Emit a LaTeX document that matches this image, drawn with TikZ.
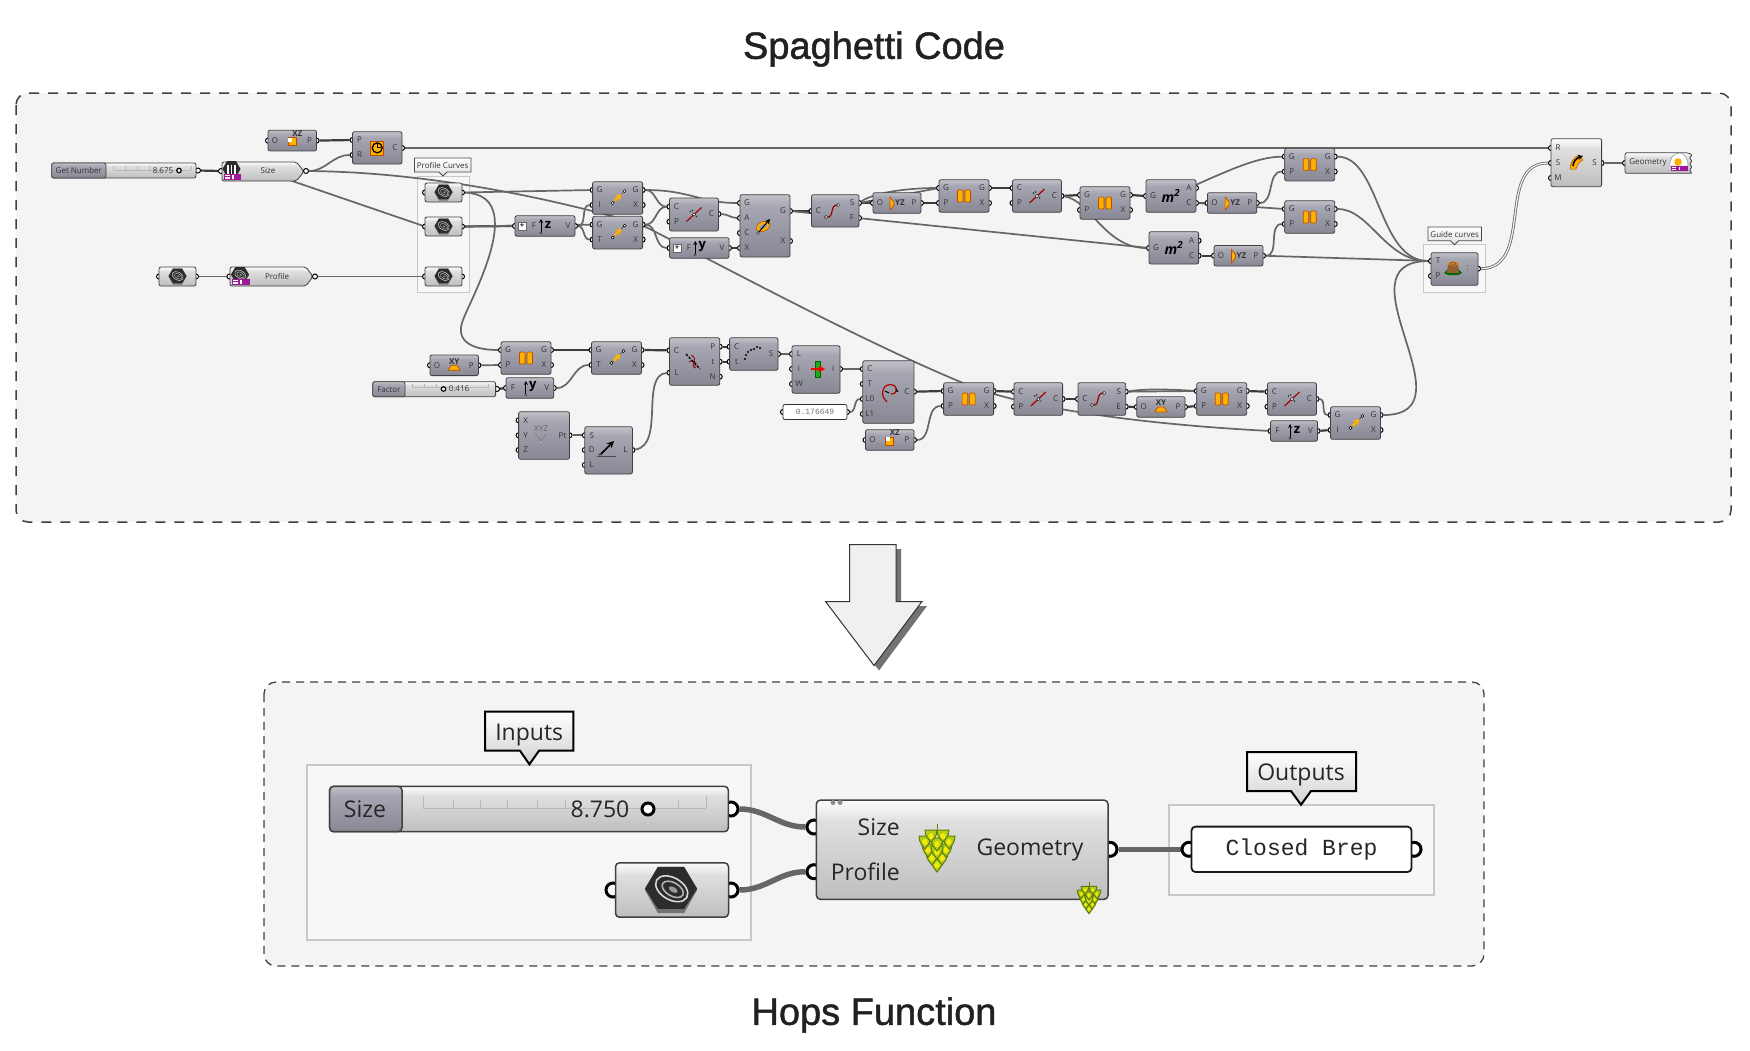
\documentclass[tikz,border=0pt]{standalone}
\usepackage{fontspec}
\setmainfont{Open Sans}
\setmonofont{Liberation Mono}
\newfontfamily\titlefont[FakeBold=1.3]{Liberation Sans}
\usepackage{tikz}
\usetikzlibrary{arrows.meta}

\definecolor{wiregray}{HTML}{666666}
\definecolor{stubgray}{HTML}{3C3C3C}
\definecolor{panelgray}{HTML}{F4F4F4}
\definecolor{groupgray}{HTML}{C8C8C8}
\definecolor{labgray}{HTML}{333333}
\definecolor{gdA}{HTML}{C2C2CA}
\definecolor{gdB}{HTML}{ABABB6}
\definecolor{gdC}{HTML}{A6A6B2}
\definecolor{gdD}{HTML}{888894}
\definecolor{glA}{HTML}{FCFCFC}
\definecolor{glB}{HTML}{E8E8E8}
\definecolor{glC}{HTML}{E0E0E0}
\definecolor{glD}{HTML}{BEBEBE}
\definecolor{orbar}{HTML}{FFB000}
\definecolor{orline}{HTML}{C04A00}
\definecolor{hexdark}{HTML}{2C2C2C}
\definecolor{tagpurple}{HTML}{A0189A}
\definecolor{hopdark}{HTML}{5E7D10}
\definecolor{hoplight}{HTML}{B4CE12}

\pgfdeclareverticalshading{gdark}{100bp}{color(0bp)=(gdD); color(25bp)=(gdD); color(65bp)=(gdC); color(67bp)=(gdB); color(75bp)=(gdA); color(100bp)=(gdA)}
\pgfdeclareverticalshading{glight}{100bp}{color(0bp)=(glD); color(25bp)=(glD); color(65bp)=(glC); color(67bp)=(glB); color(75bp)=(glA); color(100bp)=(glA)}

\pgfdeclarelayer{back}
\pgfdeclarelayer{wires}
\pgfdeclarelayer{ports}
\pgfsetlayers{back,wires,ports,main}

\newcommand{\smallfont}{\fontsize{8}{8}\selectfont}
\newcommand{\bigfont}{\fontsize{23}{23}\selectfont}

\tikzset{
    x=1pt, y=-1pt,
    panel/.style={draw=black!75, fill=panelgray, rounded corners=12pt},
    groupbox/.style={draw=groupgray, fill=white!97!black},
    wire/.style={draw=wiregray, line width=1.7pt},
    stub/.style={draw=stubgray, line width=2.2pt},
    fatwire/.style={draw=wiregray, line width=5.5pt},
    treewire/.style={draw=wiregray, line width=.8pt, double=panelgray, double distance=1.2pt},
    port/.style={circle, draw=black, fill=white, line width=1pt, minimum size=5pt, inner sep=0pt},
    bigport/.style={circle, draw=black, fill=white, line width=3pt, minimum size=14pt, inner sep=0pt},
    handle/.style={circle, draw=black, fill=white, line width=1.2pt, minimum size=4.5pt, inner sep=0pt},
    comp/.style={shade, draw=black!75, line width=.8pt, rounded corners=2pt, inner sep=0pt, outer sep=0pt},
    bigcomp/.style={line width=1.5pt, rounded corners=4pt},
    lab/.style={text=labgray, font=\smallfont, inner sep=0pt},
    biglab/.style={text=black!85, font=\bigfont, inner sep=0pt},
    orbox/.style={fill=orbar, draw=orline, line width=.7pt},
    tip/.style={draw=black!70, line width=.8pt, top color=white, bottom color=black!12},
    bigtip/.style={draw=black, line width=2pt, top color=white, bottom color=black!18},
    tick/.style={draw=black!28, line width=.7pt},
    % icons
    pics/icsplit/.style={code={
        \fill[black!45] (-1.5,-5) rectangle (1.5,6);
        \draw[orbox, rounded corners=1pt] (-6.5,-6) rectangle (-1,6);
        \draw[orbox, rounded corners=1pt] (1,-6) rectangle (6.5,6);
    }},
    pics/icmove/.style={code={
        \draw[black!80, line width=.5pt] (-5,5) -- (7,-7);
        \draw[-{Stealth[length=6pt,width=7pt]}, orbar, line width=2.4pt] (-3,3) -- (4,-4);
        \draw[fill=white, line width=.5pt] (-5,5) circle (1.5);
        \draw[fill=white, line width=.5pt] (7,-7) circle (1.5);
    }},
    pics/icslash/.style={code={
        \draw[red!65!black, line width=1.2pt] (-7.5,7) -- (7.5,-7);
        \fill[black!80] (-3.5,-3) circle (.9);
        \fill[black!80] (-1.5,-4) circle (.9);
        \fill[black!80] (2.5,2) circle (.8);
        \draw[fill=white, line width=.4pt] (0,0) circle (1.6);
    }},
    pics/iccurve/.style={code={
        \draw[red!60!black, line width=1.2pt] (-6,6) .. controls (3,8) and (-3,-7) .. (6,-6);
        \draw[fill=white, line width=.5pt] (-6,6) circle (1.6);
        \draw[fill=white, line width=.5pt] (6,-6) circle (1.6);
    }},
    pics/icxz/.style={code={
        \draw[orbox] (-4,-3) rectangle (4,5);
        \fill[white] (-4,-3) rectangle (0,1);
        \node[lab, font=\smallfont\bfseries] (t) at (5,-7) {XZ};
    }},
    pics/icxy/.style={code={
        \fill[orbar, draw=orline, line width=.7pt] (-6,5) -- (-3,0) -- (3,0) -- (6,5) -- cycle;
        \node[lab, font=\smallfont\bfseries] (t) at (0,-4) {XY};
    }},
    pics/icyz/.style={code={
        \fill[orbar, draw=orline, line width=.7pt] (-7,-6) -- (-3,-1) -- (-3,2) -- (-7,7) -- cycle;
        \node[lab, font=\smallfont\bfseries] (t) at (3,0) {YZ};
    }},
    pics/icclock/.style={code={
        \fill[orbar, draw=orline, line width=.7pt] (-6.5,-7) rectangle (6.5,7);
        \draw[black, line width=1.3pt] (0,0) circle (5);
        \draw[black, line width=1pt] (0,-4) -- (0,0) -- (4,0);
    }},
    pics/ichex/.style={code={
        \fill[black!55] (-9,0) -- (-4.5,-8) -- (4.5,-8) -- (9,0) -- (4.5,8) -- (-4.5,8) -- cycle;
        \fill[hexdark] (-9,-.5) -- (-4.5,-8) -- (4.5,-8) -- (9,-.5) -- (4.5,6.5) -- (-4.5,6.5) -- cycle;
        \draw[white!85!black, line width=#1, rotate=-30] (0,-.5) ellipse (6 and 3.8);
        \draw[black!30, line width=#1, rotate=-30] (0.4,-.5) ellipse (4 and 2.3);
        \fill[black!40, rotate=-30] (0.6,-.5) ellipse (1.7 and .9);
    }},
    pics/icsize/.style={code={
        \fill[hexdark] (-9,0) -- (-4.5,-8) -- (4.5,-8) -- (9,0) -- (4.5,8) -- (-4.5,8) -- cycle;
        \foreach \xx in {-3.5,0,3.5} \draw[white, line width=1.2pt] (\xx,-4) -- (\xx,5);
    }},
    pics/icvec/.style={code={
        \draw[-{Stealth[length=4pt,width=4pt]}, black, line width=1pt] (-4,7) -- (-4,-7);
        \draw[fill=white, line width=.4pt] (-4,7) circle (1.2);
        \node[lab, text=black, font=\fontsize{13}{13}\selectfont\bfseries] (t) at (3,-1) {#1};
    }},
    pics/icalign/.style={code={
        \draw[orbar, line width=2.4pt, rotate=25] (-1,0) ellipse (6 and 3.5);
        \draw[orline, line width=.5pt, rotate=25] (-1,0) ellipse (7.2 and 4.7);
        \draw[-{Stealth[length=5pt,width=5pt]}, black, line width=1pt] (-6,7) -- (6,-7);
        \draw[fill=white, line width=.4pt] (-6,7) circle (1.4);
    }},
    pics/icpoints/.style={code={
        \draw[red!60!black, line width=.9pt] (-2,-6) .. controls (7,-2) and (-5,5) .. (3,7);
        \draw[red!60!black, line width=.9pt] (-4,1) .. controls (-1,-3) and (6,3) .. (2,5);
        \draw[black, line width=1.3pt, dash pattern=on 2.5pt off 1.5pt] (-7,-7) -- (7,8);
    }},
    pics/icdots/.style={code={
        \foreach \xx/\yy in {-7/6,-6/2,-4/-1,-1/-3,2/-4,5/-6,8/-5} \fill[black] (\xx,\yy) circle (1.2);
    }},
    pics/icnorm/.style={code={
        \fill[green!65!black!90, draw=green!40!black, line width=.5pt] (-2,-8) rectangle (3,8);
        \fill[red] (-6,-1) rectangle (3,1);
        \fill[red] (2,-3.5) -- (8,0) -- (2,3.5) -- cycle;
    }},
    pics/icspiral/.style={code={
        \draw[red!70!black, line width=1.2pt] (-3,10) .. controls (-12,2) and (-6,-10) .. (3,-7) .. controls (9,-4) and (6,3) .. (1,2);
        \draw[black, line width=1pt] (-5,-1) -- (-1,1);
        \draw[black, line width=1pt] (6,-3) -- (8,0);
    }},
    pics/icarrow/.style={code={
        \draw[black!70, line width=.5pt] (-10,6) -- (9,6);
        \draw[-{Stealth[length=7pt,width=7pt]}, black, line width=1.5pt] (-7,5) -- (7,-9);
        \draw[fill=white, line width=.4pt] (-7,5) circle (1.3);
    }},
    pics/icxyz/.style={code={
        \node[lab, text=black!60] (t) at (0,-6) {XYZ};
        \draw[black!55, line width=.4pt] (-6,-2) -- (0,6) -- (0,-2);
        \draw[black!55, line width=.4pt] (6,-2) -- (0,6);
        \draw[black!60, line width=.4pt, fill=white] (0,7) circle (1.3);
    }},
    pics/icstump/.style={code={
        \fill[green!40!black] (-9,5) -- (-5,1) -- (5,1) -- (9,5) -- (5,7) -- (-5,7) -- cycle;
        \fill[brown!75!black] (-5,-4) -- (5,-4) -- (6,5) -- (-6,5) -- cycle;
        \fill[orange!60!brown] (0,-4.5) ellipse (5.5 and 2.2);
        \draw[black!70, line width=.4pt] (0,-4.5) ellipse (3 and 1.1);
    }},
    pics/icsweep/.style={code={
        \fill[orbar, draw=orline, line width=.5pt] (-7,7) .. controls (-7,0) and (-3,-5) .. (2,-7) -- (6,-2) .. controls (3,-1) and (0,3) .. (-1,7) -- cycle;
        \draw[-{Stealth[length=5pt,width=5pt]}, black, line width=1.6pt] (-4,4) .. controls (-4,0) and (-1,-4) .. (6,-6);
    }},
    pics/ichop/.style={code={
        \draw[hopdark, line width=1pt] (0,-19) -- (0,-24);
        \foreach \xx/\yy/\hh in {0/15/9, -5/8/9, 5/8/9, -9/0/9, 9/0/9, 0/2/9, -12/-8/9, 12/-8/9, 0/-6/9, -6/-14/8, 6/-14/8} {
            \draw[hopdark, fill=hoplight, line width=1pt, shift={(\xx,\yy)}] (-6,-4) .. controls (-6,3) and (-2,\hh-3) .. (0,\hh) .. controls (2,\hh-3) and (6,3) .. (6,-4) -- cycle;
            \fill[yellow!85!hoplight, shift={(\xx,\yy)}] (0,2) ellipse (2.6 and 3);
        }
    }},
    pics/icegg/.style={code={
        \fill[white, draw=black!45, line width=.5pt] (-9,5) .. controls (-10,-3) and (-5,-8) .. (1,-8) .. controls (5,-8) and (9,-3) .. (9,5) -- cycle;
        \fill[orbar] (-1,1) circle (3.8);
    }},
    pics/ictag/.style={code={
        \fill[tagpurple] (0,0) rectangle (#1,5.5);
        \fill[white] (1,1) rectangle (5.5,2.3);
        \fill[white] (1,3.2) rectangle (5.5,4.5);
        \fill[white] (8,1) rectangle (9.5,4.5);
    }},
}

% component body, by its corners
\newcommand{\compbox}[6]{%
    \node[comp, shading=#6, minimum width={(#4-#2)*1pt}, minimum height={(#5-#3)*1pt}] (#1) at ({(#2+#4)/2},{(#3+#5)/2}) {};
}
% input and output grips with their letters
\newcommand{\pin}[4]{%
    \begin{pgfonlayer}{ports}\node[port] (#1) at ({#2},{#3}) {};\end{pgfonlayer}
    \node[lab] (#1t) at ({#2+7},{#3}) {#4};
}
\newcommand{\pout}[4]{%
    \begin{pgfonlayer}{ports}\node[port] (#1) at ({#2},{#3}) {};\end{pgfonlayer}
    \node[lab] (#1t) at ({#2-7},{#3}) {#4};
}
% two in, two out
\newcommand{\compa}[8]{%
    \compbox{#1}{#2}{#3}{#2+50}{#3+32.6}{gdark}
    \pin{#1a}{#2}{#3+8.3}{#4}
    \pin{#1b}{#2}{#3+23.3}{#5}
    \pout{#1p}{#2+50}{#3+8.3}{#6}
    \pout{#1q}{#2+50}{#3+23.3}{#7}
    \pic (#1ic) at (#1) {#8};
}
% one in, one out, low
\newcommand{\compc}[7]{%
    \compbox{#1}{#2}{#3}{#2+#4}{#3+20.6}{gdark}
    \pin{#1i}{#2}{#3+10.3}{#5}
    \pout{#1o}{#2+#4}{#3+10.3}{#6}
    \pic (#1ic) at (#1) {#7};
}
% curve parameter
\newcommand{\hexparam}[5]{%
    \compbox{#1}{#2}{#3}{#4}{#5}{glight}
    \pin{#1i}{#2}{(#3+#5)/2}{}
    \pout{#1o}{#4}{(#3+#5)/2}{}
    \pic (#1ic) at (#1) {ichex=.5pt};
}
% slider
\newcommand{\slidebody}[8]{%
    \compbox{#1}{#2}{#3}{#4}{#5}{glight}
    \compbox{#1l}{#2}{#3}{#6}{#5}{gdark}
    \node[#8] (#1t) at ({(#2+#6)/2},{(#3+#5)/2}) {#7};
}

\begin{document}
\begin{tikzpicture}
    \useasboundingbox (0,0) rectangle (1750,1050);

    \node[text=black!87, font=\fontsize{38}{38}\selectfont\titlefont, inner sep=0pt] (titlea) at (874,49) {Spaghetti Code};
    \node[text=black!87, font=\fontsize{38}{38}\selectfont\titlefont, inner sep=0pt] (titleb) at (874,1015) {Hops Function};

    \begin{pgfonlayer}{back}
        \draw[panel, line width=1.5pt, dash pattern=on 10pt off 9pt] (16,93) rectangle (1731,522);
        \draw[panel, line width=1.3pt, dash pattern=on 8pt off 6pt] (264,682) rectangle (1484,966);
        \draw[groupbox, line width=1pt] (417,176) rectangle (469.5,292);
        \draw[groupbox, line width=1pt] (1423,244.5) rectangle (1485.5,292.5);
        \draw[groupbox, line width=2pt] (307,764.5) rectangle (750.5,939.5);
        \draw[groupbox, line width=2pt] (1169,804.5) rectangle (1434,895);
    \end{pgfonlayer}

    % big arrow
    \fill[black!55] (854.5,549) -- (901,549) -- (901,606) -- (927,606) -- (879,670.5) -- (830.5,606) -- (854.5,606) -- cycle;
    \draw[black!80, fill=black!6, line width=1pt] (849.5,544.5) -- (896,544.5) -- (896,601.5) -- (922,601.5) -- (874,665.5) -- (825.5,601.5) -- (849.5,601.5) -- cycle;

    % top row
    \compc{pxz}{268}{130.3}{48.5}{O}{P}{icxz}
    \compbox{circ}{352.5}{131.7}{402}{164}{gdark}
    \pin{circa}{352.5}{140}{P}
    \pin{circb}{352.5}{155}{R}
    \pout{circp}{402}{148}{C}
    \pic (circic) at (circ) {icclock};

    \slidebody{gn}{51.7}{163}{196}{178}{106}{Get Number}{lab}
    \draw[tick] (113.5,170) -- (191,170);
    \foreach \xx in {113.5,125,137,149,191} \draw[tick] (\xx,170) -- ++(0,-4);
    \pout{gnp}{198}{170.5}{}
    \node[lab] (gnv) at (163,170.5) {8.675};
    \node[handle] (gnh) at (179,170.5) {};

    \draw[comp, shading=glight] (222,162) -- (296.5,162) -- (304,171.5) -- (296.5,181) -- (222,181) -- cycle;
    \coordinate (size) at (263,171);
    \pin{sizei}{221}{171}{}
    \pout{sizeo}{306}{171}{}
    \node[lab] (sizet) at (268,171) {Size};
    \pic (sizeic) at (231.5,169) {icsize};
    \pic (sizetag) at (224,174) {ictag=17};

    \draw[tip] (414.5,158) -- (471,158) -- (471,172) -- (447,172) -- (443,176) -- (439,172) -- (414.5,172) -- cycle;
    \node[lab] (notea) at (442.7,165) {Profile Curves};
    \hexparam{crva}{425}{183}{462}{202}
    \hexparam{crvb}{425}{217}{462}{236}
    \hexparam{crvc}{425}{267}{462}{286}
    \hexparam{crvd}{159}{267}{196}{286}

    \draw[comp, shading=glight] (230,267) -- (306,267) -- (313,276.5) -- (306,286) -- (230,286) -- cycle;
    \pin{profi}{229.5}{276.5}{}
    \pout{profo}{315}{276.5}{}
    \node[lab] (proft) at (277,276) {Profile};
    \pic (profic) at (240,275) {ichex=.5pt};
    \pic (proftag) at (232,279) {ictag=18};

    \compc{fza}{515}{215.7}{60}{}{V}{icvec=z}
    \node[lab] (fzat) at (534,226) {F};
    \node[draw=black!60, fill=white, inner sep=0pt, minimum size=8pt, font=\smallfont] (fzas) at (522,226) {*};

    \compa{eva}{592.6}{181.7}{G}{I}{G}{X}{icmove}
    \compa{evb}{592.6}{216.3}{G}{T}{G}{X}{icmove}
    \compbox{cpa}{669.5}{198}{718.5}{231}{gdark}
    \pin{cpaa}{669.5}{206.7}{C}
    \pin{cpab}{669.5}{221.7}{P}
    \pout{cpap}{718.5}{214}{C}
    \pic (cpaic) at (cpa) {icslash};

    \compc{fyb}{669.5}{237.7}{59.5}{}{V}{icvec=y}
    \node[lab] (fybt) at (689,248) {F};
    \node[draw=black!60, fill=white, inner sep=0pt, minimum size=8pt, font=\smallfont] (fybs) at (677,248) {*};

    \compbox{big}{740}{194.7}{790}{257}{gdark}
    \pin{biga}{740}{203}{G}
    \pin{bigb}{740}{218}{A}
    \pin{bigc}{740}{233}{C}
    \pin{bigd}{740}{248}{X}
    \pout{bigp}{790}{211}{G}
    \pout{bigq}{790}{241}{X}
    \pic (bigic) at (764,226) {icalign};

    \compbox{csf}{811.5}{194.7}{859}{227}{gdark}
    \pin{csfa}{811.5}{211}{C}
    \pout{csfp}{859}{203}{S}
    \pout{csfq}{859}{218}{F}
    \pic (csfic) at (832,211) {iccurve};

    \compc{yza}{873}{192.7}{48}{O}{P}{icyz}
    \compa{gpa}{939}{179.7}{G}{P}{G}{X}{icsplit}
    \compbox{cpb}{1012.5}{179.7}{1061.5}{212.3}{gdark}
    \pin{cpba}{1012.5}{188}{C}
    \pin{cpbb}{1012.5}{203}{P}
    \pout{cpbp}{1061.5}{196}{C}
    \pic (cpbic) at (cpb) {icslash};
    \compa{gpb}{1080}{186.7}{G}{P}{G}{X}{icsplit}

    \compbox{mta}{1146}{179.7}{1196}{212.3}{gdark}
    \pin{mtai}{1146}{196}{G}
    \pout{mtap}{1196}{188}{A}
    \pout{mtaq}{1196}{203}{C}
    \node[lab, text=black, font=\fontsize{14}{14}\selectfont\rmfamily\bfseries\itshape] (mtat) at (1171,196) {m\textsuperscript{2}};
    \compbox{mtb}{1149}{231.7}{1198.6}{264}{gdark}
    \pin{mtbi}{1149}{248}{G}
    \pout{mtbp}{1198.6}{240.7}{A}
    \pout{mtbq}{1198.6}{255.7}{C}
    \node[lab, text=black, font=\fontsize{14}{14}\selectfont\rmfamily\bfseries\itshape] (mtbt) at (1174,248) {m\textsuperscript{2}};

    \compc{yzb}{1207.4}{192.7}{49.4}{O}{P}{icyz}
    \compc{yzc}{1214}{245.4}{49}{O}{P}{icyz}
    \compa{gpc}{1284.7}{148.3}{G}{P}{G}{X}{icsplit}
    \compa{gpd}{1284.7}{200.7}{G}{P}{G}{X}{icsplit}

    \draw[tip] (1428,227) -- (1481.4,227) -- (1481.4,240.7) -- (1458.5,240.7) -- (1454.5,244.7) -- (1450.5,240.7) -- (1428,240.7) -- cycle;
    \node[lab] (noteb) at (1454.7,234) {Guide curves};
    \compbox{tree}{1431}{252.7}{1478}{285.3}{gdark}
    \pin{treea}{1431}{261}{T}
    \pin{treeb}{1431}{276}{P}
    \pout{treep}{1478}{268.7}{}
    \node[lab, text=black!50] (treet) at (1467.7,269) {T};
    \pic (treeic) at (1453,268) {icstump};

    \compbox{sweep}{1551}{138.7}{1601.6}{186.7}{glight}
    \pin{sweepa}{1551}{148}{R}
    \pin{sweepb}{1551}{163}{S}
    \pin{sweepc}{1551}{178}{M}
    \pout{sweepp}{1601.6}{163}{S}
    \pic (sweepic) at (1577,162) {icsweep};

    \draw[comp, shading=glight] (1625,152.7) -- (1688,152.7) -- (1692.5,155) -- (1689,158) -- (1692.5,161) -- (1689,164) -- (1692.5,167) -- (1689,170) -- (1692.5,173.3) -- (1625,173.3) -- cycle;
    \pin{geoi}{1625}{163}{}
    \node[lab] (geot) at (1648,163) {Geometry};
    \pic (geoic) at (1679,161) {icegg};
    \pic (geotag) at (1670.5,165.5) {ictag=17.5};

    % bottom row
    \compa{gpe}{501}{341.7}{G}{P}{G}{X}{icsplit}
    \compc{pxy}{430}{355}{48.4}{O}{P}{icxy}
    \slidebody{fac}{372.8}{381.7}{495.6}{396.7}{405}{Factor}{lab}
    \draw[tick] (412.5,387.5) -- (488,387.5);
    \foreach \xx in {412.5,424,436,488} \draw[tick] (\xx,387.5) -- ++(0,-4);
    \pout{facp}{497}{389}{}
    \node[handle] (fach) at (443.5,389) {};
    \node[lab] (facv) at (459,389) {0.416};
    \compc{fyc}{506}{377.7}{47.8}{F}{V}{icvec=y}

    \compbox{xyz}{518.6}{411.7}{569.5}{459.3}{gdark}
    \pin{xyza}{518.6}{420.3}{X}
    \pin{xyzb}{518.6}{435.3}{Y}
    \pin{xyzc}{518.6}{450}{Z}
    \pout{xyzp}{569.5}{435.3}{Pt}
    \pic (xyzic) at (541,435) {icxyz};

    \compbox{vec}{584.8}{426.7}{632.4}{474}{gdark}
    \pin{veca}{584.8}{435.3}{S}
    \pin{vecb}{584.8}{450}{D}
    \pin{vecc}{584.8}{465}{L}
    \pout{vecp}{632.4}{450}{L}
    \pic (vecic) at (607,450) {icarrow};

    \compa{evc}{591.5}{341.7}{G}{T}{G}{X}{icmove}
    \compbox{pln}{669.5}{337.7}{719.7}{385.3}{gdark}
    \pin{plna}{669.5}{350.3}{C}
    \pin{plnb}{669.5}{372.7}{L}
    \pout{plnp}{719.7}{346.7}{P}
    \pout{plnq}{719.7}{361.7}{t}
    \pout{plnr}{719.7}{376.7}{N}
    \pic (plnic) at (693,361) {icpoints};

    \compbox{div}{729.6}{337.7}{778}{370.3}{gdark}
    \pin{diva}{729.6}{346.7}{C}
    \pin{divb}{729.6}{361.7}{t}
    \pout{divp}{778}{354}{S}
    \pic (divic) at (752,353) {icdots};

    \compbox{nrm}{792}{345.7}{840}{393.3}{gdark}
    \pin{nrma}{792}{354}{L}
    \pin{nrmb}{792}{369}{i}
    \pin{nrmc}{792}{384}{W}
    \pout{nrmp}{840}{369}{i}
    \pic (nrmic) at (817,369) {icnorm};

    \compbox{arc}{862.8}{360.7}{914}{423.3}{gdark}
    \pin{arca}{862.8}{369}{C}
    \pin{arcb}{862.8}{384}{T}
    \pin{arcc}{862.8}{399}{L0}
    \pin{arcd}{862.8}{414}{L1}
    \pout{arcp}{914}{391.7}{C}
    \pic (arcic) at (890,392) {icspiral};

    \node[draw=black!80, fill=white, rounded corners=2pt, line width=.8pt, minimum width=64pt, minimum height=15pt, inner sep=0pt, text=black!55, font=\smallfont\ttfamily] (numb) at (815,412) {0.176649};
    \pin{numbi}{783}{412}{}
    \pout{numbo}{847}{412}{}

    \compc{pxzb}{865.5}{429.7}{48.5}{O}{P}{icxz}
    \compa{gpf}{943.6}{382.7}{G}{P}{G}{X}{icsplit}
    \compbox{cpd}{1014}{382.7}{1062.6}{415.3}{gdark}
    \pin{cpda}{1014}{391.7}{C}
    \pin{cpdb}{1014}{406.7}{P}
    \pout{cpdp}{1062.6}{399}{C}
    \pic (cpdic) at (cpd) {icslash};

    \compbox{cse}{1078}{382.7}{1125.7}{415.3}{gdark}
    \pin{csea}{1078}{399}{C}
    \pout{csep}{1125.7}{391.7}{S}
    \pout{cseq}{1125.7}{406.7}{E}
    \pic (cseic) at (1098,399) {iccurve};

    \compc{pxyb}{1136.8}{396.7}{48.2}{O}{P}{icxy}
    \compa{gpg}{1196.7}{382.7}{G}{P}{G}{X}{icsplit}
    \compbox{cpe}{1267.5}{382.7}{1316.5}{415.3}{gdark}
    \pin{cpea}{1267.5}{391.7}{C}
    \pin{cpeb}{1267.5}{406.7}{P}
    \pout{cpep}{1316.5}{399}{C}
    \pic (cpeic) at (cpe) {icslash};
    \compc{fzb}{1270.5}{420.7}{47}{F}{V}{icvec=z}
    \compa{evd}{1330.5}{406.7}{G}{I}{G}{X}{icmove}

    % wires of the top
    \begin{pgfonlayer}{wires}
        \draw[stub] (pxzo) -- (circa);
        \draw[wire] (sizeo) to[out=0,in=180] (circb);
        \draw[wire] (circp) -- (sweepa);
        \draw[stub] (gnp) -- (sizei);
        \draw[wire] (size.center) -- (crvbi);
        \draw[wire] (sizeo) .. controls (420,172) and (540,195) .. (640,224) .. controls (740,275) and (860,340) .. (963,383) .. controls (1000,400) and (1100,422) .. (fzbi);
        \draw[wire] (crvao) -- (evaa);
        \draw[wire] (crvao) .. controls (530,195) and (470,300) .. (463,320) .. controls (455,340) and (470,350) .. (gpea);
        \draw[stub] (crvbo) -- (fzai);
        \draw[wire] (crvbo) -- (evba);
        \draw[wire] (crvco) -- (profo);
        \draw[wire] (crvdo) -- (profi);
        \draw[wire] (fzao) to[out=0,in=180] (evab);
        \draw[wire] (fzao) to[out=0,in=180] (evbb);
        \draw[wire] (evap) .. controls (690,190) and (700,203) .. (biga);
        \draw[wire] (evap) to[out=0,in=180] (cpaa);
        \draw[wire] (evbp) to[out=0,in=180] (cpaa);
        \draw[wire] (evbp) to[out=0,in=180] (fybi);
        \draw[wire] (cpap) to[out=0,in=180] (bigb);
        \draw[stub] (fybo) -- (bigd);
        \draw[stub] (bigp) -- (csfa);
        \draw[wire] (bigp) -- (mtbi);
        \draw[stub] (csfp) -- (yzai);
        \draw[wire] (csfp) .. controls (875,192) and (910,188) .. (gpaa);
        \draw[wire] (csfp) -- (gpaa);
        \draw[stub] (yzao) -- (gpab);
        \draw[stub] (gpap) -- (cpba);
        \draw[stub] (cpbp) -- (gpba);
        \draw[stub] (gpbp) -- (mtai);
        \draw[wire] (cpbp) .. controls (1090,200) and (1105,248) .. (mtbi);
        \draw[wire] (mta.center) .. controls (1225,172) and (1255,157) .. (gpca);
        \draw[stub] (mtaq) -- (yzbi);
        \draw[wire] (yzbo) to[out=0,in=180] (gpcb);
        \draw[wire] (mtaq) -- (gpda);
        \draw[stub] (mtbq) -- (yzci);
        \draw[wire] (yzco) to[out=0,in=180] (gpdb);
        \draw[wire] (yzco) -- (treea);
        \draw[wire] (gpcp) .. controls (1380,157) and (1378,261) .. (treea);
        \draw[wire] (gpdp) .. controls (1370,209) and (1385,261) .. (treea);
        \draw[wire] (evdp) .. controls (1475,415) and (1335,262) .. (treea);
        \draw[treewire] (treep) .. controls (1535,268) and (1495,163) .. (sweepb);
        \draw[wire] (sweepp) -- (geoi);
        % wires of the bottom
        \draw[stub] (gpep) -- (evca);
        \draw[wire] (pxyo) -- (gpeb);
        \draw[stub] (facp) -- (fyci);
        \draw[wire] (fyco) to[out=0,in=180] (evcb);
        \draw[stub] (evcp) -- (plna);
        \draw[wire] (xyzp) -- (veca);
        \draw[wire] (vecp) .. controls (665,445) and (640,375) .. (plnb);
        \draw[stub] (plnp) -- (diva);
        \draw[stub] (plnq) -- (divb);
        \draw[wire] (divp) -- (nrma);
        \draw[wire] (nrmp) -- (arca);
        \draw[wire] (numbo) to[out=0,in=180] (arcc);
        \draw[stub] (arcp) -- (gpfa);
        \draw[wire] (pxzbo) to[out=0,in=180] (gpfb);
        \draw[stub] (gpfp) -- (cpda);
        \draw[stub] (cpdp) -- (csea);
        \draw[wire] (csep) .. controls (1150,388) and (1180,390) .. (gpga);
        \draw[wire] (csep) -- (gpga);
        \draw[stub] (cseq) -- (pxybi);
        \draw[stub] (pxybo) -- (gpgb);
        \draw[stub] (gpgp) -- (cpea);
        \draw[wire] (cpep) to[out=0,in=180] (evda);
        \draw[stub] (fzbo) -- (evdb);
    \end{pgfonlayer}

    % the function below
    \draw[bigtip] (485,711.7) -- (573.4,711.7) -- (573.4,750.7) -- (539,750.7) -- (529.4,764.3) -- (520,750.7) -- (485,750.7) -- cycle;
    \node[biglab] (notec) at (529.2,735) {Inputs};
    \draw[bigtip] (1247,752) -- (1356,752) -- (1356,791) -- (1311,791) -- (1301,804.7) -- (1291,791) -- (1247,791) -- cycle;
    \node[biglab] (noted) at (1301,775) {Outputs};

    \node[comp, bigcomp, shading=glight, minimum width=398.8pt, minimum height=45.4pt] (sizb) at (529,809) {};
    \node[comp, bigcomp, shading=gdark, minimum width=72.4pt, minimum height=45.4pt] (sizl) at (365.8,809) {};
    \node[biglab] (sizt) at (365,809.5) {Size};
    \draw[tick] (423,808) -- (706,808);
    \foreach \xx in {423,706} \draw[tick] (\xx,808) -- ++(0,-12);
    \foreach \xx in {453.6,480.4,507.2,537,565.7,678.6} \draw[tick] (\xx,808) -- ++(0,-8);
    \node[biglab] (sizv) at (600,809) {8.750};
    \node[handle, line width=3pt, minimum size=12pt] (sizh) at (648,809) {};

    \node[comp, bigcomp, shading=glight, minimum width=113pt, minimum height=54.4pt] (hexb) at (672,890) {};
    \pic (hexbic) [scale=2.9] at (671,890) {ichex=1.6pt};

    \node[comp, bigcomp, shading=glight, minimum width=291.6pt, minimum height=99.3pt] (hops) at (962.2,849.7) {};
    \fill[black!45] (833,802.5) circle (2.5);
    \fill[black!45] (840,802.5) circle (2.5);
    \node[biglab, anchor=east] (hopsa) at (900,827) {Size};
    \node[biglab, anchor=east] (hopsb) at (900,871.7) {Profile};
    \node[biglab] (hopsc) at (1030,849.5) {Geometry};
    \pic (hopsic) at (937,848) {ichop};
    \pic (hopstag) [scale=.65] at (1089,898) {ichop};

    \node[draw=black!90, fill=white, line width=1.8pt, rounded corners=4pt, minimum width=220pt, minimum height=45.4pt, inner sep=0pt, font=\bigfont\ttfamily, text=black!85] (brep) at (1301.5,849.3) {Closed Brep};

    \begin{pgfonlayer}{ports}
        \node[bigport] (sizo) at (731,809) {};
        \node[bigport] (hexi) at (613,890) {};
        \node[bigport] (hexo) at (731,890) {};
        \node[bigport] (hopa) at (814,827) {};
        \node[bigport] (hopb) at (814,871.7) {};
        \node[bigport] (hopo) at (1110,849.3) {};
        \node[bigport] (brepi) at (1189,849.3) {};
        \node[bigport] (brepo) at (1414,849.3) {};
    \end{pgfonlayer}
    \begin{pgfonlayer}{wires}
        \draw[fatwire] (sizo) to[out=0,in=180] (hopa);
        \draw[fatwire] (hexo) to[out=0,in=180] (hopb);
        \draw[fatwire] (hopo) -- (brepi);
    \end{pgfonlayer}
\end{tikzpicture}
\end{document}
